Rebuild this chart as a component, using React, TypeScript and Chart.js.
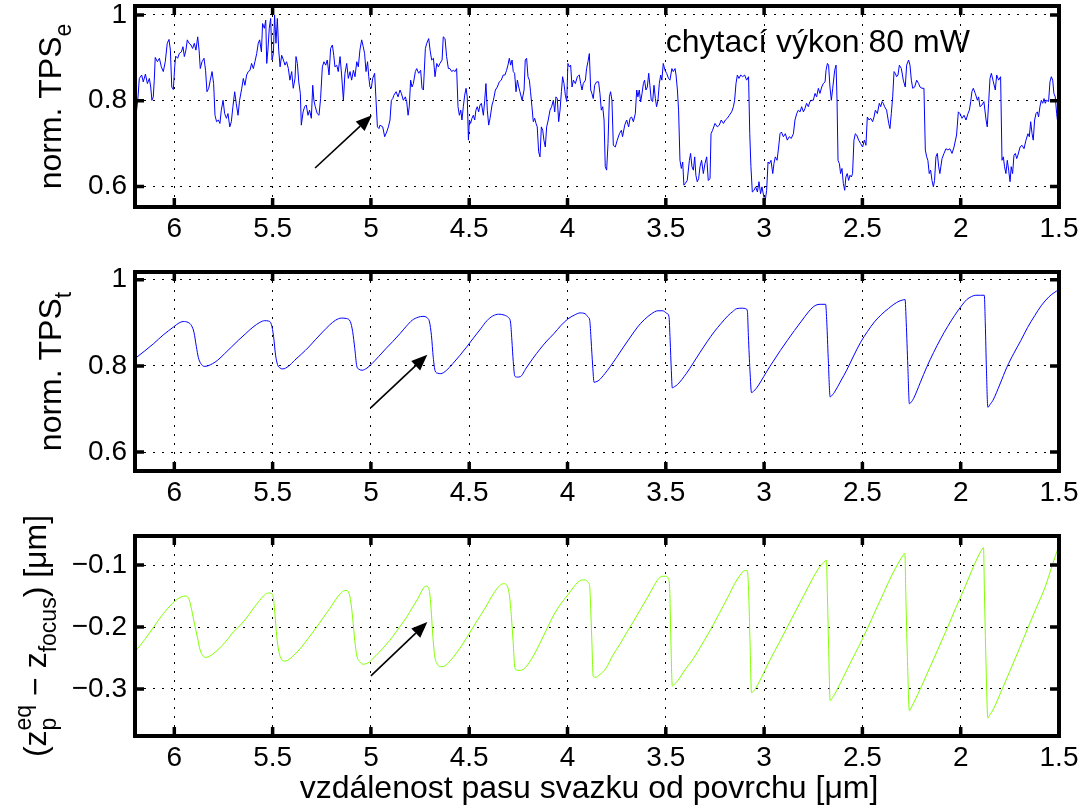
import React, { useEffect, useRef } from 'react';
import { Chart, registerables } from 'chart.js';

Chart.register(...registerables);

const FONT = '"Liberation Sans", Arial, Helvetica, sans-serif';

// ---------- axes ----------
const xTicks = [1.5, 2, 2.5, 3, 3.5, 4, 4.5, 5, 5.5, 6];
const xRange = [1.5, 6.2];
const tpsTicks = [0.6, 0.8, 1];
const zTicks = [-0.3, -0.2, -0.1];
const tpsERange = [0.552, 1.021];
const tpsTRange = [0.556, 1.018];
const zRange = [-0.376, -0.053];

// ---------- texts ----------
const xTitle = 'vzdálenost pasu svazku od povrchu [\u03bcm]';
const powerLabel = 'chytací výkon 80 mW';
const powerLabelPos = [3.5, 0.914];

// ---------- annotation arrows [tail, head] ----------
const arrowE = [[5.284, 0.643], [4.995, 0.766]];
const arrowT = [[5.0, 0.703], [4.713, 0.826]];
const arrowZ = [[5.0, -0.279], [4.713, -0.192]];

// ---------- series: normalized TPS_e (measured) ----------
const tpsEData = [
  [6.200,.836],[6.195,.766],[6.186,.801],[6.178,.852],[6.166,.860],[6.158,.844],[6.147,.862],[6.137,.840],[6.127,.852],[6.120,.832],
  [6.114,.801],[6.107,.809],[6.102,.848],[6.097,.901],[6.086,.891],[6.076,.899],[6.066,.879],[6.056,.868],[6.046,.891],[6.036,.934],
  [6.027,.943],[6.020,.918],[6.013,.832],[6.005,.826],[5.998,.879],[5.993,.904],[5.983,.899],[5.975,.910],[5.964,.914],[5.956,.926],
  [5.949,.903],[5.941,.918],[5.934,.942],[5.925,.934],[5.915,.930],[5.907,.922],[5.898,.934],[5.890,.918],[5.881,.949],[5.874,.918],
  [5.868,.875],[5.859,.891],[5.849,.899],[5.841,.871],[5.834,.821],[5.825,.829],[5.817,.848],[5.808,.868],[5.800,.840],[5.793,.766],
  [5.785,.751],[5.776,.755],[5.768,.747],[5.761,.778],[5.752,.801],[5.744,.770],[5.735,.759],[5.727,.770],[5.718,.739],[5.710,.751],
  [5.702,.786],[5.693,.821],[5.685,.794],[5.676,.766],[5.668,.801],[5.657,.829],[5.649,.852],[5.641,.836],[5.632,.860],[5.624,.868],
  [5.615,.871],[5.607,.887],[5.598,.875],[5.590,.891],[5.581,.910],[5.573,.934],[5.566,.942],[5.557,.914],[5.551,.980],[5.542,.969],
  [5.535,.988],[5.530,.887],[5.524,.918],[5.517,.969],[5.510,.992],[5.503,.895],[5.496,.910],[5.490,1.000],[5.483,.934],[5.476,.992],
  [5.469,.918],[5.462,.879],[5.454,.906],[5.445,.895],[5.437,.883],[5.429,.891],[5.420,.875],[5.412,.848],[5.403,.868],[5.395,.829],
  [5.386,.852],[5.381,.903],[5.374,.887],[5.367,.844],[5.359,.817],[5.354,.743],[5.345,.774],[5.337,.786],[5.329,.790],[5.320,.766],
  [5.312,.778],[5.303,.759],[5.296,.836],[5.290,.801],[5.283,.786],[5.273,.770],[5.264,.766],[5.256,.805],[5.247,.879],[5.239,.891],
  [5.230,.883],[5.222,.895],[5.213,.860],[5.205,.922],[5.196,.930],[5.189,.906],[5.183,.879],[5.174,.883],[5.166,.868],[5.157,.903],
  [5.149,.860],[5.140,.801],[5.132,.864],[5.123,.887],[5.115,.852],[5.106,.868],[5.098,.848],[5.089,.871],[5.081,.856],[5.072,.891],
  [5.064,.879],[5.056,.918],[5.047,.942],[5.039,.926],[5.032,.910],[5.025,.868],[5.017,.891],[5.011,.856],[5.005,.832],[4.998,.829],
  [4.991,.852],[4.981,.864],[4.974,.801],[4.967,.739],[4.959,.735],
  [4.954,.743],[4.940,.739],[4.930,.716],[4.920,.727],[4.911,.739],[4.903,.755],[4.896,.801],[4.889,.805],[4.883,.813],[4.872,.821],
  [4.862,.809],[4.852,.825],[4.845,.817],[4.835,.801],[4.825,.809],[4.818,.798],[4.811,.766],[4.805,.786],[4.798,.848],[4.791,.832],
  [4.784,.840],[4.774,.868],[4.767,.875],[4.757,.864],[4.747,.871],[4.740,.829],[4.733,.825],[4.723,.922],[4.716,.934],[4.706,.945],
  [4.699,.918],[4.691,.895],[4.682,.899],[4.674,.856],[4.665,.887],[4.657,.879],[4.649,.887],[4.638,.895],[4.632,.949],[4.623,.945],
  [4.615,.903],[4.606,.875],[4.598,.875],[4.589,.868],[4.581,.871],[4.572,.868],[4.564,.875],[4.557,.786],[4.550,.766],[4.543,.778],
  [4.537,.755],[4.530,.786],[4.523,.813],[4.516,.829],[4.510,.809],[4.504,.708],[4.499,.755],[4.493,.747],[4.486,.759],[4.479,.766],
  [4.472,.755],[4.466,.778],[4.459,.786],[4.452,.774],[4.445,.790],[4.438,.794],[4.428,.766],[4.421,.801],[4.415,.840],[4.408,.778],
  [4.401,.743],[4.394,.759],[4.384,.790],[4.377,.801],[4.367,.825],[4.357,.832],[4.347,.844],[4.337,.848],[4.327,.860],[4.318,.860],
  [4.310,.871],[4.303,.883],[4.296,.899],[4.289,.883],[4.282,.895],[4.276,.868],[4.269,.864],[4.262,.821],[4.255,.848],[4.248,.832],
  [4.242,.821],[4.231,.801],[4.221,.825],[4.215,.895],[4.208,.899],[4.201,.856],[4.194,.848],[4.188,.821],[4.181,.786],[4.174,.751],
  [4.167,.759],[4.160,.747],[4.154,.739],[4.147,.681],[4.140,.669],[4.133,.739],[4.126,.731],[4.120,.708],[4.113,.692],[4.106,.739],
  [4.098,.755],[4.089,.778],[4.081,.786],[4.072,.801],[4.065,.774],[4.059,.809],[4.052,.805],[4.045,.751],[4.038,.778],[4.031,.821],
  [4.025,.856],[4.018,.840],[4.011,.813],[4.004,.798],[3.998,.887],[3.991,.879],[3.984,.883],[3.977,.832],[3.970,.848],[3.960,.840],
  [3.950,.856],[3.940,.860],[3.933,.840],[3.926,.825],[3.920,.840],[3.909,.848],[3.903,.875],[3.896,.891],[3.889,.910],[3.882,.825],
  [3.876,.817],[3.869,.805],[3.862,.836],[3.852,.844],[3.842,.844],[3.835,.817],[3.828,.778],[3.821,.786],[3.814,.755],[3.808,.646],
  [3.801,.638],[3.794,.700],[3.787,.809],[3.781,.821],[3.774,.801],[3.767,.696],[3.757,.692],[3.747,.708],[3.736,.723],[3.726,.731],
  [3.720,.716],[3.709,.743],[3.699,.755],[3.689,.739],[3.682,.759],[3.674,.762],[3.665,.751],[3.655,.770],[3.648,.825],[3.642,.809],
  [3.635,.825],[3.628,.797],[3.621,.817],[3.614,.840],[3.608,.848],[3.601,.825],[3.594,.832],[3.587,.864],[3.581,.836],[3.574,.801],
  [3.567,.798],[3.560,.836],[3.553,.805],[3.547,.786],[3.540,.801],[3.533,.840],[3.526,.860],[3.520,.848],[3.513,.887],[3.504,.871],
  [3.496,.864],[3.486,.852],[3.479,.848],[3.469,.875],[3.462,.868],[3.453,.875],[3.448,.860],[3.441,.825],[3.435,.778],[3.428,.661],
  [3.421,.642],[3.414,.657],[3.408,.603],[3.401,.607],[3.391,.614],[3.380,.661],[3.374,.677],[3.367,.646],[3.360,.638],[3.353,.669],
  [3.347,.626],[3.340,.611],[3.333,.618],[3.326,.646],
  [3.318,.661],[3.309,.630],[3.301,.653],[3.292,.669],[3.284,.614],[3.275,.618],[3.270,.723],[3.262,.731],[3.250,.747],[3.238,.739],
  [3.228,.743],[3.218,.755],[3.207,.747],[3.197,.755],[3.187,.759],[3.177,.766],[3.165,.774],[3.156,.786],[3.150,.801],[3.143,.840],
  [3.136,.860],[3.128,.852],[3.119,.860],[3.109,.856],[3.099,.860],[3.089,.848],[3.079,.856],[3.073,.723],[3.067,.646],[3.060,.587],
  [3.051,.591],[3.043,.599],[3.034,.587],[3.026,.611],[3.018,.583],[3.011,.599],[3.001,.575],[2.994,.568],[2.987,.591],[2.980,.657],
  [2.973,.653],[2.965,.661],[2.956,.630],[2.950,.653],[2.943,.669],[2.934,.661],[2.926,.692],[2.919,.723],[2.912,.727],[2.902,.716],
  [2.892,.723],[2.882,.708],[2.872,.716],[2.862,.712],[2.851,.723],[2.843,.755],[2.834,.770],[2.826,.778],[2.817,.774],[2.809,.786],
  [2.800,.774],[2.792,.782],[2.784,.794],[2.775,.786],[2.767,.798],[2.758,.801],[2.750,.801],[2.741,.817],[2.733,.809],[2.724,.829],
  [2.716,.817],[2.707,.832],[2.699,.840],[2.690,.844],[2.685,.871],[2.678,.887],[2.672,.883],[2.665,.832],[2.658,.801],[2.651,.829],
  [2.641,.871],[2.634,.883],[2.629,.801],[2.624,.661],[2.617,.653],[2.611,.630],[2.604,.642],[2.597,.607],[2.590,.591],[2.584,.622],
  [2.577,.630],[2.570,.614],[2.563,.626],[2.556,.622],[2.550,.630],[2.543,.708],[2.536,.723],[2.529,.720],[2.519,.708],[2.509,.700],
  [2.499,.692],[2.490,.708],[2.482,.696],[2.475,.762],[2.466,.755],[2.458,.759],[2.448,.751],[2.441,.762],[2.434,.778],[2.424,.770],
  [2.414,.794],[2.407,.786],[2.400,.798],[2.394,.794],[2.387,.786],[2.377,.778],[2.366,.747],[2.360,.735],[2.353,.770],[2.346,.809],
  [2.339,.868],[2.333,.864],[2.326,.856],[2.319,.860],[2.312,.883],[2.302,.875],[2.292,.848],[2.282,.832],[2.275,.883],[2.265,.895],
  [2.258,.883],[2.251,.848],[2.244,.829],[2.234,.832],[2.224,.848],[2.214,.840],[2.207,.832],[2.197,.829],[2.187,.829],[2.180,.685],
  [2.173,.669],[2.167,.661],[2.160,.630],[2.153,.638],[2.146,.614],[2.139,.599],[2.133,.614],[2.126,.669],[2.119,.677],[2.112,.646],
  [2.106,.630],[2.095,.665],[2.085,.677],[2.075,.688],[2.065,.685],[2.055,.688],[2.044,.677],[2.034,.692],[2.021,.720],[2.012,.774],
  [2.004,.770],[1.993,.759],[1.983,.766],[1.973,.755],[1.963,.770],[1.956,.778],[1.949,.798],[1.943,.821],[1.936,.829],[1.926,.817],
  [1.915,.801],[1.909,.809],[1.902,.786],[1.892,.790],[1.882,.798],[1.871,.755],[1.865,.739],[1.858,.794],[1.851,.852],[1.844,.864],
  [1.834,.844],[1.824,.825],[1.817,.860],[1.807,.848],[1.797,.856],[1.790,.661],[1.783,.669],[1.777,.646],[1.770,.630],[1.763,.661],
  [1.756,.638],[1.749,.611],[1.743,.646],[1.736,.630],[1.729,.673],[1.722,.677],[1.715,.665],[1.709,.673],[1.698,.692],[1.688,.696],
  [1.678,.688],[1.668,.708],[1.658,.723],[1.651,.716],[1.644,.751],[1.637,.723],[1.631,.708],[1.624,.755],[1.617,.770],[1.610,.774],
  [1.604,.762],[1.597,.786],[1.590,.801],[1.583,.794],[1.576,.805],[1.570,.794],[1.563,.801],[1.553,.798],[1.546,.844],[1.539,.856],
  [1.532,.848],[1.526,.817],[1.519,.809],[1.512,.770],[1.507,.751],[1.502,.840],[1.500,.825]
];

// ---------- series: normalized TPS_t (theory) ----------
const tpsTData = [
  [6.200,0.817],[6.150,0.835],[6.107,0.851],[6.056,0.872],[6.005,0.890],[5.975,0.900],[5.955,0.903],[5.930,0.901],[5.912,0.893],[5.900,0.878],
  [5.888,0.845],[5.878,0.820],[5.866,0.806],[5.848,0.799],[5.830,0.800],
  [5.780,0.813],[5.745,0.828],[5.709,0.844],[5.673,0.860],[5.637,0.875],[5.600,0.890],[5.565,0.901],[5.540,0.905],[5.520,0.904],[5.506,0.896],
  [5.495,0.868],[5.485,0.825],[5.475,0.803],[5.462,0.795],[5.448,0.793],
  [5.420,0.799],[5.388,0.813],[5.352,0.828],[5.316,0.844],[5.280,0.862],[5.245,0.879],[5.210,0.895],[5.180,0.906],[5.150,0.911],[5.125,0.910],
  [5.105,0.903],[5.093,0.880],[5.082,0.840],[5.072,0.800],[5.060,0.792],[5.045,0.790],
  [5.020,0.795],[4.995,0.805],[4.960,0.822],[4.924,0.840],[4.888,0.857],[4.852,0.875],[4.820,0.892],[4.790,0.906],[4.760,0.913],[4.735,0.915],
  [4.715,0.912],[4.702,0.902],[4.692,0.870],[4.683,0.820],[4.673,0.788],[4.660,0.783],[4.645,0.782],
  [4.615,0.790],[4.584,0.805],[4.548,0.824],[4.513,0.844],[4.478,0.865],[4.442,0.886],[4.410,0.905],[4.380,0.916],[4.350,0.920],[4.322,0.918],
  [4.300,0.912],[4.290,0.902],[4.283,0.860],[4.276,0.810],[4.268,0.776],[4.255,0.774],[4.240,0.775],
  [4.210,0.795],[4.175,0.818],[4.140,0.839],[4.105,0.858],[4.069,0.875],[4.035,0.893],[3.998,0.909],[3.965,0.918],[3.936,0.923],[3.910,0.921],
  [3.895,0.913],[3.887,0.906],[3.880,0.860],[3.872,0.800],[3.865,0.762],[3.850,0.764],[3.839,0.767],
  [3.810,0.782],[3.785,0.797],[3.750,0.820],[3.715,0.844],[3.680,0.867],[3.644,0.890],[3.610,0.907],[3.573,0.921],[3.540,0.928],[3.515,0.928],
  [3.495,0.922],[3.484,0.915],[3.478,0.860],[3.472,0.790],[3.467,0.749],[3.455,0.752],[3.440,0.757],
  [3.396,0.782],[3.360,0.807],[3.325,0.832],[3.290,0.856],[3.254,0.879],[3.218,0.899],[3.183,0.917],[3.160,0.926],[3.139,0.933],[3.110,0.934],
  [3.094,0.933],[3.085,0.927],[3.080,0.870],[3.072,0.790],[3.064,0.738],[3.052,0.742],[3.041,0.747],
  [3.015,0.765],[2.988,0.786],[2.953,0.811],[2.917,0.836],[2.882,0.859],[2.846,0.882],[2.810,0.904],[2.775,0.925],[2.750,0.937],[2.731,0.942],
  [2.710,0.943],[2.687,0.943],[2.681,0.900],[2.674,0.820],[2.664,0.728],[2.652,0.733],[2.642,0.739],
  [2.610,0.765],[2.580,0.790],[2.545,0.823],[2.509,0.855],[2.474,0.880],[2.439,0.902],[2.404,0.919],[2.368,0.933],[2.340,0.943],[2.314,0.950],
  [2.295,0.953],[2.283,0.954],[2.277,0.900],[2.269,0.800],[2.261,0.712],[2.250,0.717],[2.240,0.724],
  [2.205,0.762],[2.173,0.797],[2.138,0.831],[2.102,0.863],[2.067,0.891],[2.031,0.917],[2.000,0.937],[1.969,0.954],[1.945,0.961],[1.924,0.964],
  [1.900,0.964],[1.880,0.964],[1.875,0.900],[1.869,0.790],[1.862,0.704],[1.850,0.711],[1.836,0.720],
  [1.800,0.758],[1.765,0.797],[1.730,0.829],[1.694,0.859],[1.660,0.889],[1.623,0.917],[1.590,0.940],[1.552,0.960],[1.525,0.970],[1.500,0.977]
];

// ---------- series: z_p^eq - z_focus [um] ----------
const zEqData = [
  [6.200,-0.240],[6.150,-0.220],[6.105,-0.200],[6.060,-0.180],[6.010,-0.162],[5.975,-0.153],[5.945,-0.150],[5.928,-0.153],[5.912,-0.172],[5.897,-0.196],
  [5.883,-0.216],[5.869,-0.237],[5.855,-0.246],[5.840,-0.249],[5.820,-0.247],
  [5.790,-0.240],[5.757,-0.230],[5.727,-0.219],[5.700,-0.208],[5.673,-0.200],[5.637,-0.187],[5.600,-0.171],[5.566,-0.157],[5.540,-0.148],[5.520,-0.145],
  [5.505,-0.146],[5.496,-0.153],[5.488,-0.180],[5.479,-0.215],[5.468,-0.240],[5.455,-0.252],[5.440,-0.255],[5.425,-0.254],
  [5.390,-0.245],[5.352,-0.232],[5.316,-0.217],[5.280,-0.202],[5.245,-0.186],[5.209,-0.170],[5.180,-0.156],[5.155,-0.146],[5.135,-0.141],[5.122,-0.141],
  [5.111,-0.146],[5.102,-0.160],[5.093,-0.185],[5.082,-0.222],[5.072,-0.246],[5.057,-0.256],[5.040,-0.260],[5.015,-0.258],
  [4.990,-0.251],[4.959,-0.241],[4.924,-0.229],[4.888,-0.215],[4.852,-0.199],[4.816,-0.183],[4.790,-0.169],[4.763,-0.155],[4.740,-0.141],[4.722,-0.134],
  [4.710,-0.135],[4.701,-0.145],[4.694,-0.170],[4.686,-0.210],[4.676,-0.246],[4.662,-0.260],[4.645,-0.264],[4.625,-0.263],
  [4.595,-0.254],[4.567,-0.243],[4.530,-0.226],[4.495,-0.208],[4.460,-0.190],[4.424,-0.172],[4.397,-0.157],[4.370,-0.143],[4.345,-0.133],[4.326,-0.130],
  [4.310,-0.132],[4.295,-0.150],[4.285,-0.185],[4.277,-0.222],[4.268,-0.265],[4.255,-0.270],[4.240,-0.270],[4.210,-0.264],
  [4.180,-0.250],[4.140,-0.226],[4.105,-0.203],[4.069,-0.180],[4.035,-0.163],[3.998,-0.148],[3.970,-0.136],[3.945,-0.127],[3.925,-0.124],[3.910,-0.124],
  [3.895,-0.128],[3.887,-0.135],[3.882,-0.170],[3.877,-0.215],[3.869,-0.280],[3.855,-0.281],[3.840,-0.278],[3.803,-0.266],
  [3.770,-0.246],[3.732,-0.227],[3.697,-0.208],[3.661,-0.189],[3.626,-0.170],[3.591,-0.151],[3.563,-0.135],[3.537,-0.122],[3.515,-0.118],[3.500,-0.118],
  [3.487,-0.122],[3.480,-0.140],[3.475,-0.210],[3.467,-0.295],[3.455,-0.292],[3.440,-0.287],
  [3.400,-0.268],[3.360,-0.251],[3.316,-0.228],[3.272,-0.204],[3.228,-0.178],[3.183,-0.151],[3.150,-0.130],[3.121,-0.116],[3.100,-0.109],[3.085,-0.109],
  [3.078,-0.150],[3.072,-0.220],[3.064,-0.306],[3.052,-0.303],[3.041,-0.298],
  [3.005,-0.276],[2.970,-0.253],[2.926,-0.227],[2.882,-0.200],[2.838,-0.173],[2.793,-0.146],[2.757,-0.124],[2.722,-0.105],[2.700,-0.097],[2.683,-0.092],
  [2.678,-0.150],[2.672,-0.230],[2.664,-0.319],[2.652,-0.314],[2.642,-0.309],
  [2.600,-0.283],[2.563,-0.259],[2.518,-0.231],[2.474,-0.202],[2.430,-0.171],[2.385,-0.140],[2.350,-0.116],[2.314,-0.095],[2.295,-0.085],[2.284,-0.081],
  [2.279,-0.150],[2.272,-0.240],[2.261,-0.335],[2.250,-0.329],[2.240,-0.323],
  [2.197,-0.294],[2.155,-0.264],[2.110,-0.232],[2.066,-0.200],[2.022,-0.167],[1.978,-0.135],[1.945,-0.110],[1.916,-0.089],[1.898,-0.078],[1.884,-0.072],
  [1.879,-0.150],[1.872,-0.250],[1.862,-0.347],[1.850,-0.341],[1.836,-0.334],
  [1.790,-0.301],[1.747,-0.269],[1.703,-0.236],[1.659,-0.202],[1.614,-0.168],[1.570,-0.135],[1.535,-0.101],[1.500,-0.068]
];

type Run = { t: string; sub?: boolean; sup?: boolean; stack?: boolean };

const titleE: Run[] = [{ t: 'norm. TPS' }, { t: 'e', sub: true }];
const titleT: Run[] = [{ t: 'norm. TPS' }, { t: 't', sub: true }];
const titleZ: Run[] = [
  { t: '(z' }, { t: 'eq', sup: true, stack: true }, { t: 'p', sub: true },
  { t: ' \u2212 z' }, { t: 'focus', sub: true }, { t: ') [\u03bcm]' },
];

const TITLE_SIZE = 32;
const TICK_SIZE = 28;

function fmt(v: number): string {
  const s = String(Math.round(v * 1000) / 1000);
  return s.startsWith('-') ? '\u2212' + s.slice(1) : s;
}

function runFont(size: number, small: boolean) {
  return `${small ? size * 0.72 : size}px ${FONT}`;
}
function runDy(r: Run, size: number) {
  return r.sub ? size * 0.3 : r.sup ? -size * 0.48 : 0;
}
function measureRuns(ctx: CanvasRenderingContext2D, runs: Run[], size: number) {
  let w = 0;
  let i = 0;
  while (i < runs.length) {
    const r = runs[i];
    ctx.font = runFont(size, !!(r.sub || r.sup));
    let rw = ctx.measureText(r.t).width;
    if (r.stack && i + 1 < runs.length) {
      ctx.font = runFont(size, true);
      rw = Math.max(rw, ctx.measureText(runs[i + 1].t).width);
      i += 2;
    } else i += 1;
    w += rw;
  }
  return w;
}
function drawRuns(ctx: CanvasRenderingContext2D, runs: Run[], size: number, x0: number) {
  let x = x0;
  let i = 0;
  while (i < runs.length) {
    const r = runs[i];
    ctx.font = runFont(size, !!(r.sub || r.sup));
    ctx.fillText(r.t, x, runDy(r, size));
    let rw = ctx.measureText(r.t).width;
    if (r.stack && i + 1 < runs.length) {
      const r2 = runs[i + 1];
      ctx.font = runFont(size, true);
      ctx.fillText(r2.t, x, runDy(r2, size));
      rw = Math.max(rw, ctx.measureText(r2.t).width);
      i += 2;
    } else i += 1;
    x += rw;
  }
}

type PanelCfg = {
  id: string;
  top: number;
  height: number;
  padTop: number;
  xAxisH: number;
  data: number[][];
  color: string;
  yRange: number[];
  yTicks: number[];
  title: Run[];
  titleBaseX: number;
  arrow: number[][];
  smooth: boolean;
  showPower?: boolean;
  showXTitle?: boolean;
};

const panels: PanelCfg[] = [
  { id: 'e', top: 0, height: 262, padTop: 6, xAxisH: 55, data: tpsEData, color: '#0000ff', yRange: tpsERange, yTicks: tpsTicks, title: titleE, titleBaseX: 61, arrow: arrowE, smooth: false, showPower: true },
  { id: 't', top: 262, height: 264, padTop: 10, xAxisH: 55, data: tpsTData, color: '#0000ff', yRange: tpsTRange, yTicks: tpsTicks, title: titleT, titleBaseX: 61, arrow: arrowT, smooth: true },
  { id: 'z', top: 500, height: 309, padTop: 36, xAxisH: 73, data: zEqData, color: '#80ff00', yRange: zRange, yTicks: zTicks, title: titleZ, titleBaseX: 46, arrow: arrowZ, smooth: true, showXTitle: true },
];

function Panel({ cfg }: { cfg: PanelCfg }) {
  const ref = useRef<HTMLCanvasElement>(null);
  useEffect(() => {
    const canvas = ref.current;
    if (!canvas) return;
    const decor = {
      id: 'decor_' + cfg.id,
      afterDraw(chart: any) {
        const ctx: CanvasRenderingContext2D = chart.ctx;
        const a = chart.chartArea;
        const xs = chart.scales.x;
        const ys = chart.scales.y;
        ctx.save();
        // inward tick marks
        ctx.strokeStyle = '#000';
        ctx.lineWidth = 3.5;
        ctx.lineCap = 'butt';
        ctx.beginPath();
        for (const v of xTicks) {
          const px = xs.getPixelForValue(v);
          ctx.moveTo(px, a.bottom); ctx.lineTo(px, a.bottom - 9);
          ctx.moveTo(px, a.top); ctx.lineTo(px, a.top + 9);
        }
        for (const v of cfg.yTicks) {
          const py = ys.getPixelForValue(v);
          ctx.moveTo(a.left, py); ctx.lineTo(a.left + 9, py);
          ctx.moveTo(a.right, py); ctx.lineTo(a.right - 9, py);
        }
        ctx.stroke();
        // frame
        ctx.lineWidth = 4;
        ctx.strokeRect(a.left, a.top, a.right - a.left, a.bottom - a.top);
        // arrow
        const tx = xs.getPixelForValue(cfg.arrow[0][0]);
        const ty = ys.getPixelForValue(cfg.arrow[0][1]);
        const hx = xs.getPixelForValue(cfg.arrow[1][0]);
        const hy = ys.getPixelForValue(cfg.arrow[1][1]);
        const ang = Math.atan2(hy - ty, hx - tx);
        const hl = 16, hw = 6.5;
        const bx = hx - hl * Math.cos(ang), by = hy - hl * Math.sin(ang);
        ctx.lineWidth = 1.6;
        ctx.beginPath();
        ctx.moveTo(tx, ty); ctx.lineTo(bx, by);
        ctx.stroke();
        ctx.fillStyle = '#000';
        ctx.beginPath();
        ctx.moveTo(hx, hy);
        ctx.lineTo(bx + hw * Math.sin(ang), by - hw * Math.cos(ang));
        ctx.lineTo(bx - hw * Math.sin(ang), by + hw * Math.cos(ang));
        ctx.closePath();
        ctx.fill();
        // y title (rotated)
        ctx.fillStyle = '#000';
        ctx.textAlign = 'left';
        ctx.textBaseline = 'alphabetic';
        const cy = (a.top + a.bottom) / 2;
        ctx.save();
        ctx.translate(cfg.titleBaseX, cy);
        ctx.rotate(-Math.PI / 2);
        const w = measureRuns(ctx, cfg.title, TITLE_SIZE);
        drawRuns(ctx, cfg.title, TITLE_SIZE, -w / 2);
        ctx.restore();
        // power annotation
        if (cfg.showPower) {
          ctx.font = `${TITLE_SIZE}px ${FONT}`;
          ctx.textAlign = 'left';
          ctx.fillText(powerLabel, xs.getPixelForValue(powerLabelPos[0]), ys.getPixelForValue(powerLabelPos[1]));
        }
        if (cfg.showXTitle) {
          ctx.font = `${TITLE_SIZE}px ${FONT}`;
          ctx.textAlign = 'center';
          ctx.fillText(xTitle, (a.left + a.right) / 2 - 8, a.bottom + 62);
        }
        ctx.restore();
      },
    };
    const tickFont = { family: FONT, size: TICK_SIZE, lineHeight: 1.2 };
    const chart = new Chart(canvas, {
      type: 'line',
      data: {
        datasets: [
          {
            data: cfg.data.map(([x, y]) => ({ x, y })),
            borderColor: cfg.color,
            borderWidth: 1,
            pointRadius: 0,
            fill: false,
            tension: 0,
            cubicInterpolationMode: cfg.smooth ? 'monotone' : 'default',
          } as any,
        ],
      },
      options: {
        animation: false,
        responsive: false,
        maintainAspectRatio: false,
        devicePixelRatio: 1,
        events: [],
        layout: { padding: { left: 0, right: 28, top: cfg.padTop, bottom: 0 }, autoPadding: false } as any,
        plugins: { legend: { display: false }, tooltip: { enabled: false }, title: { display: false } },
        scales: {
          x: {
            type: 'linear',
            reverse: true,
            min: xRange[0],
            max: xRange[1],
            afterBuildTicks: (s: any) => { s.ticks = xTicks.map((v) => ({ value: v })); },
            afterFit: (s: any) => { s.height = cfg.xAxisH; s.paddingLeft = 0; s.paddingRight = 0; },
            ticks: {
              autoSkip: false, maxRotation: 0, minRotation: 0, padding: 5, color: '#000',
              font: tickFont, callback: (v: any) => fmt(Number(v)),
            },
            grid: { color: '#000', lineWidth: 1, drawTicks: false },
            border: { display: false, dash: [2, 7] },
          } as any,
          y: {
            type: 'linear',
            min: cfg.yRange[0],
            max: cfg.yRange[1],
            afterBuildTicks: (s: any) => { s.ticks = cfg.yTicks.map((v) => ({ value: v })); },
            afterFit: (s: any) => { s.width = 135; s.paddingTop = 0; s.paddingBottom = 0; },
            ticks: {
              autoSkip: false, padding: 8, color: '#000',
              font: tickFont, callback: (v: any) => fmt(Number(v)),
            },
            grid: { color: '#000', lineWidth: 1, drawTicks: false },
            border: { display: false, dash: [2, 7] },
          } as any,
        },
      },
      plugins: [decor],
    });
    return () => chart.destroy();
  }, [cfg]);
  return (
    <canvas
      ref={ref}
      width={1087}
      height={cfg.height}
      style={{ position: 'absolute', left: 0, top: cfg.top, width: 1087, height: cfg.height, display: 'block' }}
    />
  );
}

export default function App() {
  return (
    <div style={{ position: 'absolute', left: 0, top: 0, width: 1087, height: 809, background: '#fff', overflow: 'hidden' }}>
      {panels.map((p) => (
        <Panel key={p.id} cfg={p} />
      ))}
    </div>
  );
}
